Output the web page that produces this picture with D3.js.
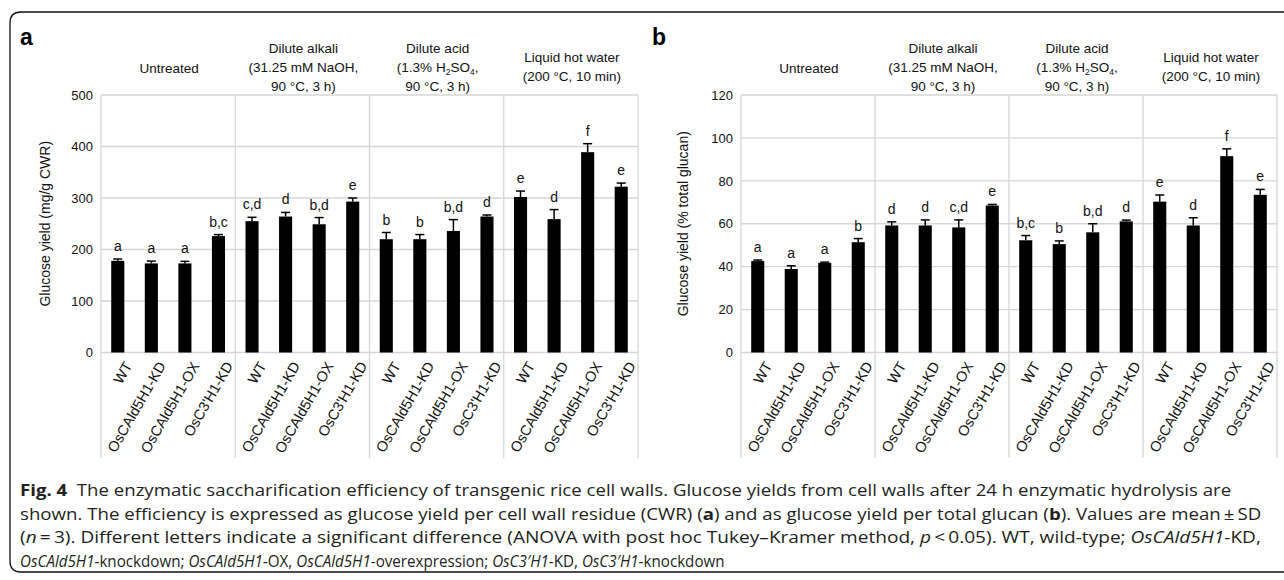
<!DOCTYPE html>
<html>
<head>
<meta charset="utf-8">
<script src="https://cdn.jsdelivr.net/npm/d3@7/dist/d3.min.js"></script>
<style>
  html, body { margin: 0; padding: 0; background: #fff; }
  svg { display: block; }
</style>
</head>
<body>
<svg id="chart" width="1284" height="580"></svg>
<script>
// ---------------- data ----------------
const groups = ["Untreated", "Dilute alkali", "Dilute acid", "Liquid hot water"];
const lines = ["WT", "OsCAld5H1-KD", "OsCAld5H1-OX", "OsC3'H1-KD"];

// panel a: glucose yield (mg/g CWR)
const cwrMean = [178, 173, 173, 226, 255, 264, 249, 293, 220, 220, 236, 264, 302, 259, 389, 322];
const cwrSD   = [3.5, 4.5, 4, 3, 7.5, 8, 13, 7, 13, 9, 22, 3, 11.5, 18.5, 16.5, 7];
const cwrLetters = ["a", "a", "a", "b,c", "c,d", "d", "b,d", "e", "b", "b", "b,d", "d", "e", "d", "f", "e"];
const cwrTicks = [0, 100, 200, 300, 400, 500];

// panel b: glucose yield (% total glucan)
const glcMean = [42.6, 38.9, 41.8, 51.4, 59.2, 59.2, 58.3, 68.5, 52.3, 50.5, 56, 61.1, 70.3, 59.2, 91.5, 73.5];
const glcSD   = [0.5, 1.5, 0.3, 1.7, 1.7, 2.6, 3.5, 0.5, 2.2, 1.5, 4, 0.6, 3.1, 3.6, 3.4, 2.5];
const glcLetters = ["a", "a", "a", "b", "d", "d", "c,d", "e", "b,c", "b", "b,d", "d", "e", "d", "f", "e"];
const glcTicks = [0, 20, 40, 60, 80, 100, 120];

// ---------------- drawing ----------------
const svg = d3.select("#chart");
const FONT = "'Liberation Sans', Arial, sans-serif";
const GRID = "#d6d6d6";

// outer frame (open on the right)
svg.append("path")
  .attr("d", "M1284,12 H21 Q10,12 10,23 V561 Q10,572 21,572 H1284")
  .attr("fill", "none").attr("stroke", "#111").attr("stroke-width", 1.3);

function drawPanel(opt) {
  const g = svg.append("g");
  const n = opt.mean.length;
  const x = d3.scaleBand().domain(d3.range(n)).range([opt.x0, opt.x1])
    .paddingInner(0.61).paddingOuter(0.305);
  const gx = d3.scaleBand().domain(groups).range([opt.x0, opt.x1]).padding(0);
  const y = d3.scaleLinear().domain([0, opt.ticks[opt.ticks.length - 1]]).range([352.5, 95]);

  // horizontal gridlines
  g.append("g").selectAll("line").data(opt.ticks).join("line")
    .attr("x1", opt.x0).attr("x2", opt.x1)
    .attr("y1", d => y(d)).attr("y2", d => y(d))
    .attr("stroke", GRID).attr("stroke-width", 1.3);

  // vertical group separators
  const seps = groups.map(d => gx(d)).concat([opt.x1]);
  g.append("g").selectAll("line").data(seps).join("line")
    .attr("x1", d => d).attr("x2", d => d)
    .attr("y1", y(opt.ticks[opt.ticks.length - 1])).attr("y2", 458)
    .attr("stroke", GRID).attr("stroke-width", 1.3);

  // y axis tick labels
  const ay = g.append("g").attr("transform", `translate(${opt.x0},0)`)
    .call(d3.axisLeft(y).tickValues(opt.ticks).tickSize(0).tickPadding(8));
  ay.select(".domain").remove();
  ay.selectAll("text").attr("font-family", FONT).attr("font-size", 13).attr("fill", "#111");

  // y axis title
  g.append("text")
    .attr("transform", `translate(${opt.titleX},${(y.range()[0] + y.range()[1]) / 2}) rotate(-90)`)
    .attr("text-anchor", "middle").attr("font-family", FONT).attr("font-size", 14)
    .attr("fill", "#111").text(opt.title);

  // bars
  g.append("g").selectAll("rect").data(opt.mean).join("rect")
    .attr("x", (d, i) => x(i)).attr("width", x.bandwidth())
    .attr("y", d => y(d)).attr("height", d => y(0) - y(d))
    .attr("fill", "#000");

  // error bars (upper half)
  const eb = g.append("g").attr("stroke", "#000").attr("stroke-width", 1.5);
  opt.mean.forEach((m, i) => {
    const cx = x(i) + x.bandwidth() / 2;
    eb.append("line").attr("x1", cx).attr("x2", cx).attr("y1", y(m)).attr("y2", y(m + opt.sd[i]));
    eb.append("line").attr("x1", cx - 4.5).attr("x2", cx + 4.5)
      .attr("y1", y(m + opt.sd[i])).attr("y2", y(m + opt.sd[i]));
  });

  // significance letters
  g.append("g").selectAll("text").data(opt.letters).join("text")
    .attr("x", (d, i) => x(i) + x.bandwidth() / 2)
    .attr("y", (d, i) => y(opt.mean[i] + opt.sd[i]) - 8)
    .attr("text-anchor", "middle").attr("font-family", FONT).attr("font-size", 14)
    .attr("fill", "#111").text(d => d);

  // x labels (rotated)
  const ax = g.append("g").attr("transform", `translate(0,352.5)`)
    .call(d3.axisBottom(x).tickSize(0).tickFormat(i => lines[i % lines.length]));
  ax.select(".domain").remove();
  ax.selectAll("text")
    .attr("font-family", FONT).attr("font-size", 14.5).attr("fill", "#111")
    .attr("text-anchor", "end").attr("dy", null).attr("y", null)
    .attr("transform", "translate(15,13) rotate(-60)");

  // group headers
  const hdr = [
    [["Untreated"]],
    [["Dilute alkali"], ["(31.25 mM NaOH,"], ["90 °C, 3 h)"]],
    [["Dilute acid"], ["(1.3% H", "2", "SO", "4", ","], ["90 °C, 3 h)"]],
    [["Liquid hot water"], ["(200 °C, 10 min)"]]
  ];
  const baseY = { 1: [73], 2: [62, 81], 3: [53, 72, 91] };
  groups.forEach((grp, gi) => {
    const cx = gx(grp) + gx.bandwidth() / 2 + 1;
    const rows = hdr[gi];
    rows.forEach((parts, ri) => {
      const t = g.append("text").attr("x", cx).attr("y", baseY[rows.length][ri])
        .attr("text-anchor", "middle").attr("font-family", FONT).attr("font-size", 13.5)
        .attr("fill", "#111");
      parts.forEach((p, pi) => {
        const isSub = parts.length > 1 && (pi === 1 || pi === 3);
        const ts = t.append("tspan").text(p);
        if (isSub) ts.attr("font-size", 8.5).attr("dy", 3);
        else if (pi > 0) ts.attr("dy", -3);
      });
    });
  });

  // panel letter
  g.append("text").attr("x", opt.letterX).attr("y", 45)
    .attr("font-family", FONT).attr("font-size", 23).attr("font-weight", "bold")
    .attr("fill", "#000").text(opt.panel);
}

drawPanel({ x0: 101, x1: 638, mean: cwrMean, sd: cwrSD, letters: cwrLetters,
  ticks: cwrTicks, title: "Glucose yield (mg/g CWR)", titleX: 50, panel: "a", letterX: 20 });
drawPanel({ x0: 741, x1: 1277, mean: glcMean, sd: glcSD, letters: glcLetters,
  ticks: glcTicks, title: "Glucose yield (% total glucan)", titleX: 688, panel: "b", letterX: 652 });

// ---------------- caption ----------------
const CAP = "'Open Sans', 'Noto Sans', sans-serif";
const capLines = [
  { y: 496, w: 1212, parts: [["Fig. 4", "b"], ["  The enzymatic saccharification efficiency of transgenic rice cell walls. Glucose yields from cell walls after 24 h enzymatic hydrolysis are", ""]] },
  { y: 519.5, w: 1242, parts: [["shown. The efficiency is expressed as glucose yield per cell wall residue (CWR) (", ""], ["a", "b"], [") and as glucose yield per total glucan (", ""], ["b", "b"], ["). Values are mean\u2009±\u2009SD", ""]] },
  { y: 543, w: 1242, parts: [["(", ""], ["n", "i"], ["\u2009=\u20093). Different letters indicate a significant difference (ANOVA with post hoc Tukey–Kramer method, ", ""], ["p", "i"], ["\u2009<\u20090.05). WT, wild-type; ", ""], ["OsCAld5H1", "i"], ["-KD,", ""]] },
  { y: 566.5, w: 705, parts: [["OsCAld5H1", "i"], ["-knockdown; ", ""], ["OsCAld5H1", "i"], ["-OX, ", ""], ["OsCAld5H1", "i"], ["-overexpression; ", ""], ["OsC3\u2032H1", "i"], ["-KD, ", ""], ["OsC3\u2032H1", "i"], ["-knockdown", ""]] }
];
capLines.forEach(l => {
  const g = svg.append("g");
  const t = g.append("text").attr("x", 0).attr("y", 0)
    .attr("font-family", CAP).attr("font-size", 16.5).attr("fill", "#231f20")
    .style("white-space", "pre");
  l.parts.forEach(([s, st]) => {
    const ts = t.append("tspan").text(s);
    if (st === "b") ts.attr("font-weight", "bold");
    if (st === "i") ts.attr("font-style", "italic");
  });
  const len = t.node().getComputedTextLength();
  const sx = l.w / len;
  g.attr("transform", `translate(20,${l.y}) scale(${sx},1)`);
});
</script>
</body>
</html>
